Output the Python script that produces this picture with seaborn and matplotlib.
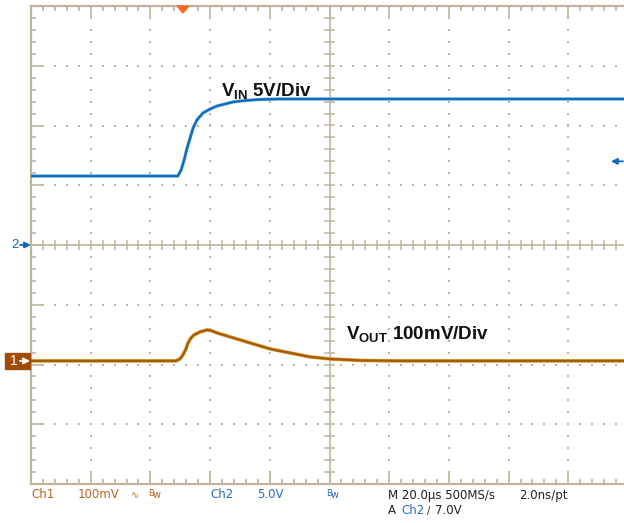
import numpy as np
import pandas as pd
import matplotlib
matplotlib.use('Agg')
from matplotlib import pyplot as plt
from matplotlib.patches import Rectangle, Polygon, FancyArrowPatch
from matplotlib.ticker import MultipleLocator
import seaborn as sns

sns.set_style('white')
plt.rcParams['font.family'] = ['Liberation Sans', 'DejaVu Sans']
plt.rcParams['mathtext.fontset'] = 'custom'
plt.rcParams['mathtext.rm'] = 'Liberation Sans'
plt.rcParams['mathtext.bf'] = 'Liberation Sans:bold'

# Ch2 = VIN (volts), time in us from left edge of the screen
t_in = [0, 49.2, 50.3, 51.3, 52.3, 53.3, 54.3, 55.6, 57.6, 60.0, 62.3, 65.0,
        67.7, 71.7, 76.7, 83.4, 100, 140, 200]
v_in = [5.77, 5.77, 6.28, 7.11, 8.12, 8.95, 9.79, 10.46, 11.05, 11.38, 11.63,
        11.80, 11.97, 12.09, 12.18, 12.22, 12.22, 12.22, 12.22]

# Ch1 = VOUT (mV)
t_out = [0, 48.6, 49.9, 50.9, 51.9, 52.6, 53.6, 54.6, 56.6, 59.0, 60.6, 62.3,
         66.7, 73.4, 80.1, 86.8, 93.5, 100.2, 110.2, 123.6, 200]
v_out = [0, 0, 3.3, 10, 20, 30, 38.5, 43.5, 48.5, 51.9, 50.2, 46.9, 40.2,
         30.1, 20.1, 13.4, 6.7, 3.3, 0.8, 0, 0]

# scope settings
ch1_scale = 100.0   # mV/div
ch2_scale = 5.0     # V/div
ch1_pos = 2.06      # div from bottom
ch2_pos = 4.0
trig_level = 7.0    # V
trig_time = 50.9    # us

df_in = pd.DataFrame({'t': t_in, 'div': ch2_pos + np.array(v_in) / ch2_scale})
df_out = pd.DataFrame({'t': t_out, 'div': ch1_pos + np.array(v_out) / ch1_scale})

W, H = 624, 523
gridc = '#bdb59d'
blue = '#1565b8'
brown = '#a85a0c'

fig = plt.figure(figsize=(W / 100, H / 100), dpi=100)
ax = fig.add_axes([31 / W, 39 / H, 597 / W, 478 / H])
ax.set_xlim(0, 200)
ax.set_ylim(0, 8)

def px(x, y):
    return x / W, 1 - y / H

# dotted graticule
gx = np.arange(20, 200, 20)
gy = np.arange(1, 8, 1)
dots_x, dots_y = [], []
for x in gx:
    if x == 100:
        continue
    for y in np.arange(0.2, 8, 0.2):
        dots_x.append(x); dots_y.append(y)
for y in gy:
    if y == 4:
        continue
    for x in np.arange(4, 200, 4):
        dots_x.append(x); dots_y.append(y)
ax.scatter(dots_x, dots_y, s=2.2, marker='s', color=gridc, linewidths=0, zorder=1)

# center cross with ticks
ax.axvline(100, color=gridc, lw=1.2, zorder=1)
ax.axhline(4, color=gridc, lw=1.2, zorder=1)
ty = np.arange(0.2, 8, 0.2)
ax.hlines(ty, 100 - 1.7, 100 + 1.7, color=gridc, lw=1.1, zorder=1)
tx = np.arange(4, 200, 4)
ax.vlines(tx, 4 - 0.085, 4 + 0.085, color=gridc, lw=1.1, zorder=1)

# frame ticks
ax.xaxis.set_major_locator(MultipleLocator(20))
ax.xaxis.set_minor_locator(MultipleLocator(4))
ax.yaxis.set_major_locator(MultipleLocator(1))
ax.yaxis.set_minor_locator(MultipleLocator(0.2))
ax.tick_params(which='both', direction='in', top=True, bottom=True, left=True,
               right=False, labelbottom=False, labelleft=False, color=gridc, width=1.2)
ax.tick_params(which='major', length=9.2)
ax.tick_params(which='minor', length=3.6)
for s in ['left', 'top', 'bottom']:
    ax.spines[s].set_color(gridc)
    ax.spines[s].set_linewidth(1.6)
ax.spines['right'].set_visible(False)

# traces
sns.lineplot(data=df_in, x='t', y='div', ax=ax, color='#3a9ad8', lw=2.3, zorder=3)
sns.lineplot(data=df_in, x='t', y='div', ax=ax, color=blue, lw=1.3, zorder=4)
sns.lineplot(data=df_out, x='t', y='div', ax=ax, color='#d6a024', lw=2.6, zorder=3)
sns.lineplot(data=df_out, x='t', y='div', ax=ax, color=brown, lw=1.6, zorder=4)
ax.set_xlabel('')
ax.set_ylabel('')

# trace labels
ax.text(63.6, 6.5, r'$\mathbf{V_{IN}}$ 5V/Div', fontsize=13.5, fontweight='bold',
        color='#111111', va='baseline', zorder=5)
ax.text(105.5, 2.42, r'$\mathbf{V_{OUT}}$ 100mV/Div', fontsize=13.5, fontweight='bold',
        color='#111111', va='baseline', zorder=5)

# trigger position marker (top)
tpx = 31 + trig_time / 20 * 59.7
fig.patches.append(Polygon([px(tpx - 6, 6), px(tpx + 6, 6), px(tpx, 13)],
                           closed=True, transform=fig.transFigure,
                           color='#ff6a2a', zorder=6))

def arrow(x0, x1, y, color):
    fig.add_artist(FancyArrowPatch(px(x0, y), px(x1, y), transform=fig.transFigure,
                                   arrowstyle='-|>', color=color, lw=1.3,
                                   mutation_scale=9, shrinkA=0, shrinkB=0, zorder=8))

# trigger level arrow (right)
ty_px = 484 - (ch2_pos + trig_level / ch2_scale) * 59.75
arrow(623, 611, ty_px, blue)

# ch2 ground marker
c2y = 484 - ch2_pos * 59.75
fig.text(*px(15, c2y), '2', color=blue, fontsize=9.5, ha='center', va='center')
arrow(20, 31, c2y, blue)

# ch1 ground marker
c1y = 484 - ch1_pos * 59.75
fig.patches.append(Rectangle(px(5, c1y + 8), 25 / W, 16 / H, transform=fig.transFigure,
                             color='#a04c08', zorder=6))
fig.text(*px(14, c1y), '1', color='white', fontsize=10, ha='center', va='center', zorder=7)
arrow(20, 30, c1y, 'white')

# status line
sc = '#b5651d'
sb = '#2a6ebb'
fam = ['Liberation Sans Narrow', 'DejaVu Sans']
fs = 8.5
y1, y2 = 495, 511
fig.text(*px(31, y1), 'Ch1', color=sc, fontsize=fs, va='center', family=fam)
fig.text(*px(78, y1), '100mV', color=sc, fontsize=fs, va='center', family=fam)
fig.text(*px(131, y1), '\u223f', color=sc, fontsize=7, va='center', family=['DejaVu Sans'])
fig.text(*px(148, y1 - 2), 'B', color=sc, fontsize=6, va='center', family=fam)
fig.text(*px(153, y1), 'w', color=sc, fontsize=7, va='center', family=fam)
fig.text(*px(210, y1), 'Ch2', color=sb, fontsize=fs, va='center', family=fam)
fig.text(*px(257, y1), '5.0V', color=sb, fontsize=fs, va='center', family=fam)
fig.text(*px(326, y1 - 2), 'B', color=sb, fontsize=6, va='center', family=fam)
fig.text(*px(331, y1), 'w', color=sb, fontsize=7, va='center', family=fam)
fig.text(*px(388, y1), 'M 20.0\u00b5s 500MS/s', color='#222222', fontsize=fs, va='center', family=fam)
fig.text(*px(519, y1), '2.0ns/pt', color='#222222', fontsize=fs, va='center', family=fam)
fig.text(*px(388, y2), 'A', color='#222222', fontsize=fs, va='center', family=fam)
fig.text(*px(401, y2), 'Ch2', color=sb, fontsize=fs, va='center', family=fam)
fig.text(*px(427, y2), '/', color='#222222', fontsize=7, va='center', family=fam)
fig.text(*px(435, y2), '7.0V', color='#222222', fontsize=fs, va='center', family=fam)

fig.savefig('out.png', dpi=100)
